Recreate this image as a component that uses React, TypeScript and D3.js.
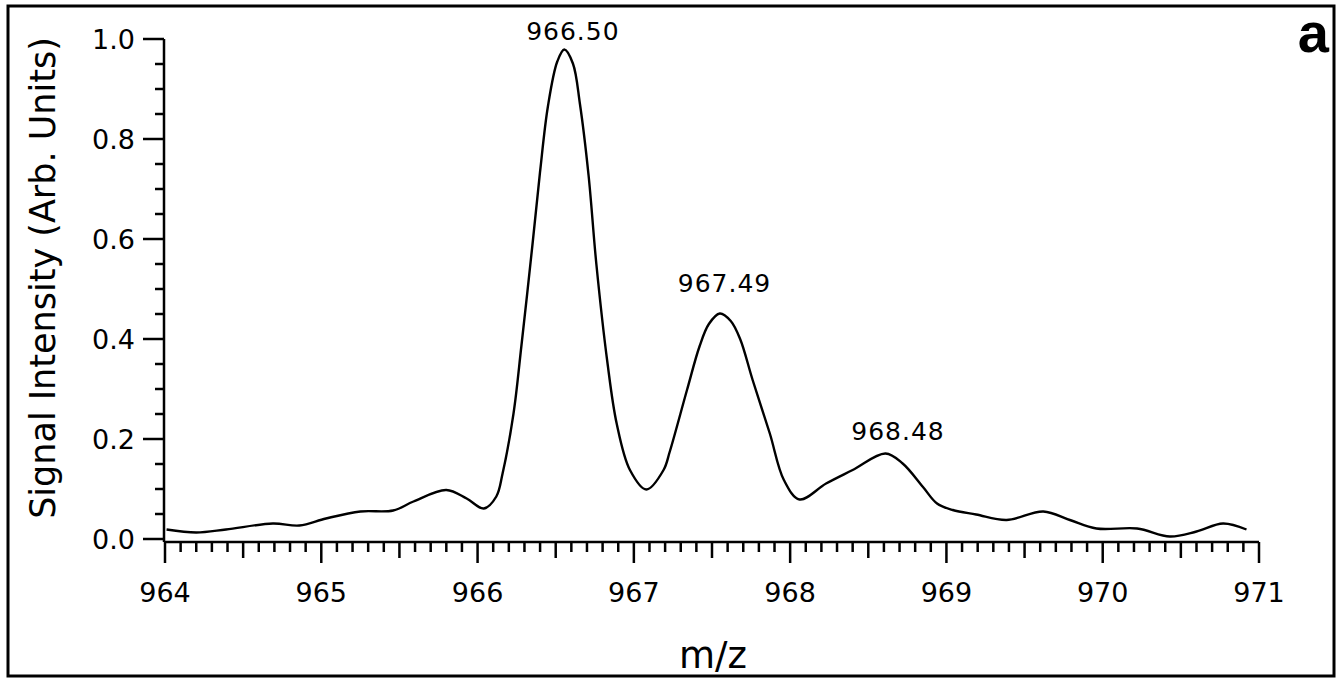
import React, { useEffect, useRef } from 'react';
import * as d3 from 'd3';

// m/z samples
const mz = [
  964.01, 964.2, 964.39, 964.69, 964.86, 965.03, 965.25, 965.46, 965.59, 965.8,
  965.93, 966.04, 966.12, 966.16, 966.23, 966.28, 966.35, 966.4, 966.45, 966.51,
  966.555, 966.61, 966.655, 966.71, 966.76, 966.83, 966.89, 966.975, 967.08, 967.19,
  967.23, 967.34, 967.42, 967.48, 967.55, 967.62, 967.68, 967.76, 967.87, 967.96,
  968.06, 968.23, 968.4, 968.61, 968.72, 968.85, 968.94, 969.04, 969.19, 969.385,
  969.62, 969.79, 969.96, 970.22, 970.43, 970.6, 970.77, 970.92,
];
const intensity = [
  0.019, 0.013, 0.019, 0.031, 0.027, 0.041, 0.055, 0.057, 0.075, 0.098,
  0.081, 0.061, 0.085, 0.131, 0.251, 0.385, 0.585, 0.735, 0.865, 0.955,
  0.979, 0.951, 0.87, 0.728, 0.55, 0.355, 0.231, 0.138, 0.099, 0.138,
  0.175, 0.298, 0.385, 0.43, 0.451, 0.436, 0.4, 0.318, 0.211, 0.118,
  0.079, 0.111, 0.138, 0.171, 0.151, 0.104, 0.071, 0.058, 0.049, 0.038,
  0.055, 0.038, 0.021, 0.021, 0.005, 0.015, 0.031, 0.019,
];

// peak annotations
const peakLabels = ['966.50', '967.49', '968.48'];
const peakLabelX = [966.61, 967.58, 968.69];
const peakLabelY = [0.998, 0.494, 0.198];

const xTicks = [964, 965, 966, 967, 968, 969, 970, 971];
const yTicks = [0, 0.2, 0.4, 0.6, 0.8, 1.0];

const FONT = '"DejaVu Sans", Verdana, sans-serif';

const App = () => {
  const svgRef = useRef<SVGSVGElement | null>(null);

  useEffect(() => {
    const width = 1340;
    const height = 681;
    const svg = d3.select(svgRef.current);
    svg.selectAll('*').remove();
    svg.attr('width', width).attr('height', height);

    const x = d3.scaleLinear().domain([964, 971]).range([165, 1259]);
    const y = d3.scaleLinear().domain([0, 1]).range([539, 39]);
    const axisY = 542;
    const axisX = 164;

    // outer frame
    svg.append('rect')
      .attr('x', 8).attr('y', 6)
      .attr('width', 1326).attr('height', 670)
      .attr('fill', 'white')
      .attr('stroke', '#000')
      .attr('stroke-width', 3);

    // y axis
    const yMinor = d3.range(0, 1.0001, 0.05);
    svg.append('line')
      .attr('x1', axisX).attr('x2', axisX)
      .attr('y1', y(1)).attr('y2', axisY)
      .attr('stroke', '#000').attr('stroke-width', 2.5);
    svg.append('g').selectAll('line')
      .data(yMinor)
      .enter().append('line')
      .attr('x1', d => (Math.abs(d * 5 - Math.round(d * 5)) < 1e-6 ? axisX - 21 : axisX - 9))
      .attr('x2', axisX)
      .attr('y1', d => y(d)).attr('y2', d => y(d))
      .attr('stroke', '#000').attr('stroke-width', 2.5);
    svg.append('g').selectAll('text')
      .data(yTicks)
      .enter().append('text')
      .attr('x', 135)
      .attr('y', d => y(d))
      .attr('dy', '0.36em')
      .attr('text-anchor', 'end')
      .style('font-family', FONT)
      .style('font-size', '27px')
      .text(d => d3.format('.1f')(d));

    // x axis
    const xMinor = d3.range(0, 71).map(i => 964 + i / 10);
    svg.append('line')
      .attr('x1', axisX).attr('x2', x(971))
      .attr('y1', axisY).attr('y2', axisY)
      .attr('stroke', '#000').attr('stroke-width', 2.5);
    svg.append('g').selectAll('line')
      .data(xMinor)
      .enter().append('line')
      .attr('x1', d => x(d)).attr('x2', d => x(d))
      .attr('y1', axisY)
      .attr('y2', (d, i) => axisY + (i % 10 === 0 ? 21 : i % 5 === 0 ? 16 : 10))
      .attr('stroke', '#000').attr('stroke-width', 2.5);
    svg.append('g').selectAll('text')
      .data(xTicks)
      .enter().append('text')
      .attr('x', d => x(d))
      .attr('y', 602)
      .attr('text-anchor', 'middle')
      .style('font-family', FONT)
      .style('font-size', '27px')
      .text(d => d);

    // spectrum trace
    const pts: [number, number][] = mz.map((m, i) => [m, intensity[i]]);
    const line = d3.line<[number, number]>()
      .x(d => x(d[0]))
      .y(d => y(d[1]))
      .curve(d3.curveCatmullRom.alpha(0.5));
    svg.append('path')
      .datum(pts)
      .attr('d', line)
      .attr('fill', 'none')
      .attr('stroke', '#000')
      .attr('stroke-width', 2.4)
      .attr('stroke-linejoin', 'round');

    // peak labels
    svg.append('g').selectAll('text')
      .data(peakLabels)
      .enter().append('text')
      .attr('x', (d, i) => x(peakLabelX[i]))
      .attr('y', (d, i) => y(peakLabelY[i]))
      .attr('text-anchor', 'middle')
      .style('font-family', FONT)
      .style('font-size', '25px')
      .style('letter-spacing', '1px')
      .text(d => d);

    // axis titles
    svg.append('text')
      .attr('transform', 'translate(55,278) rotate(-90)')
      .attr('text-anchor', 'middle')
      .style('font-family', FONT)
      .style('font-size', '35px')
      .text('Signal Intensity (Arb. Units)');

    svg.append('text')
      .attr('x', 713)
      .attr('y', 668)
      .attr('text-anchor', 'middle')
      .style('font-family', FONT)
      .style('font-size', '37px')
      .text('m/z');

    // panel letter
    svg.append('text')
      .attr('x', 1329)
      .attr('y', 52)
      .attr('text-anchor', 'end')
      .style('font-family', '"Liberation Sans", Arial, sans-serif')
      .style('font-weight', 'bold')
      .style('font-size', '56px')
      .text('a');
  }, []);

  return <svg ref={svgRef} style={{ position: 'absolute', left: 0, top: 0, display: 'block' }} />;
};

export default App;
